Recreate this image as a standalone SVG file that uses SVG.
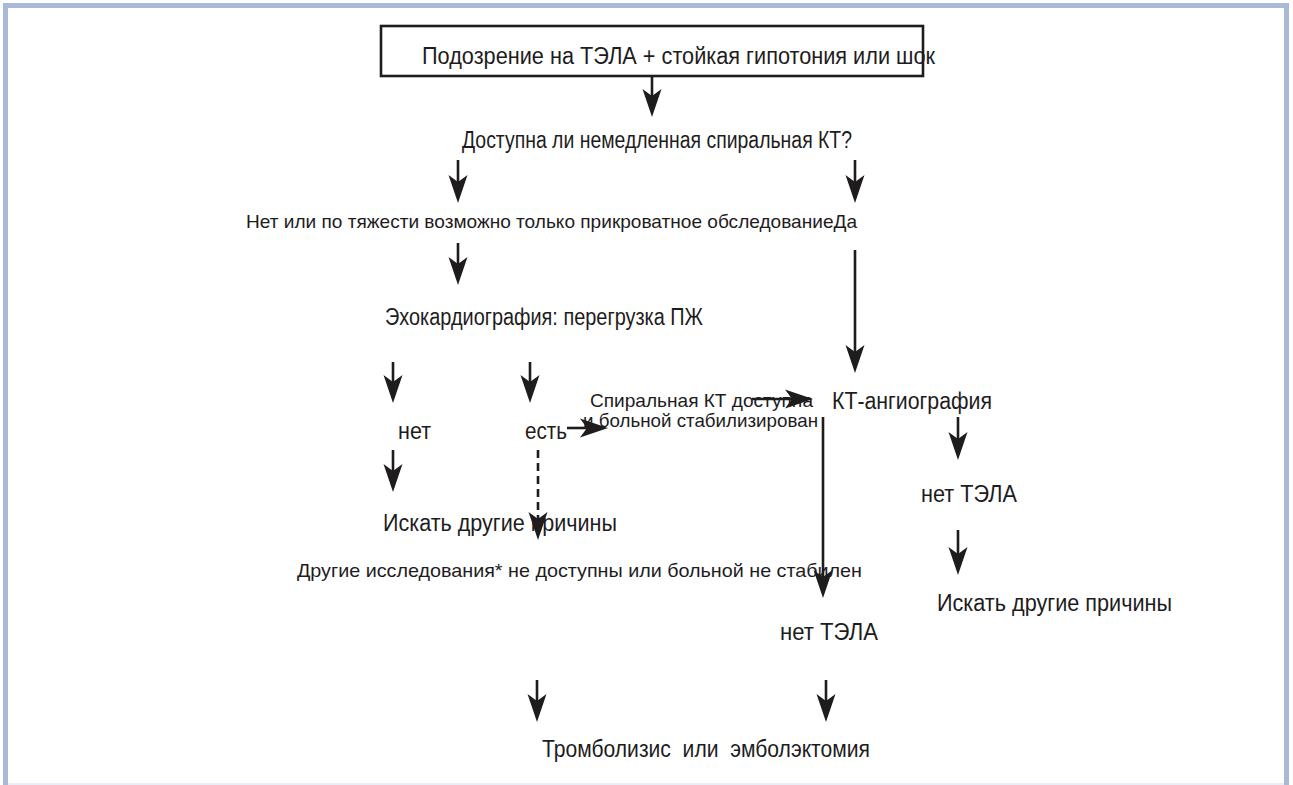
<svg xmlns="http://www.w3.org/2000/svg" width="1293" height="785" viewBox="0 0 1293 785">
<style>
.t{font-family:"Liberation Sans",Arial,sans-serif;fill:#1e1c1d}
.l{font-size:23px}
.s{font-size:18.5px}
.c{stroke:#1e1c1d;stroke-width:2.6;fill:none}
.d{stroke-dasharray:8 5}
</style>
<defs>
<marker id="ah" viewBox="-17 -11 32 22" refX="0" refY="0" markerWidth="32" markerHeight="22" markerUnits="userSpaceOnUse" orient="auto">
<path d="M13,0 L-15,-9.5 L-8,0 L-15,9.5 Z" fill="#1e1c1d"/>
</marker>
</defs>
<rect width="1293" height="785" fill="#ffffff"/>
<rect x="5.5" y="5.5" width="1281" height="820" fill="none" stroke="#a9bad9" stroke-width="5"/>
<line x1="8" y1="784" x2="1284" y2="784" stroke="#e9edf7" stroke-width="2"/>

<g id="n-start">
<rect x="381" y="26" width="542" height="50" fill="none" stroke="#1e1c1d" stroke-width="2.6"/>
<text class="t l" x="422" y="64" textLength="513" lengthAdjust="spacingAndGlyphs">Подозрение на ТЭЛА + стойкая гипотония или шок</text>
</g>
<g id="n-ct-available"><text class="t l" x="462" y="148" textLength="390" lengthAdjust="spacingAndGlyphs">Доступна ли немедленная спиральная КТ?</text></g>
<g id="n-no-yes"><text class="t s" x="246" y="228" textLength="611" lengthAdjust="spacingAndGlyphs">Нет или по тяжести возможно только прикроватное обследованиеДа</text></g>
<g id="n-echo"><text class="t l" x="385" y="325" textLength="318" lengthAdjust="spacingAndGlyphs">Эхокардиография: перегрузка ПЖ</text></g>
<g id="n-spiral"><text class="t s" x="590" y="407" textLength="223" lengthAdjust="spacingAndGlyphs">Спиральная КТ доступна</text><text class="t s" x="583" y="427" textLength="235" lengthAdjust="spacingAndGlyphs">и больной стабилизирован</text></g>
<g id="n-cta"><text class="t l" x="832" y="409" textLength="160" lengthAdjust="spacingAndGlyphs">КТ-ангиография</text></g>
<g id="n-net"><text class="t l" x="398" y="439" textLength="33" lengthAdjust="spacingAndGlyphs">нет</text></g>
<g id="n-est"><text class="t l" x="525" y="439" textLength="42" lengthAdjust="spacingAndGlyphs">есть</text></g>
<g id="n-no-pe-1"><text class="t l" x="921" y="502" textLength="96" lengthAdjust="spacingAndGlyphs">нет ТЭЛА</text></g>
<g id="n-other-1"><text class="t l" x="937" y="611" textLength="235" lengthAdjust="spacingAndGlyphs">Искать другие причины</text></g>
<g id="n-other-2"><text class="t l" x="383" y="531" textLength="234" lengthAdjust="spacingAndGlyphs">Искать другие причины</text></g>
<g id="n-other-tests"><text class="t s" x="297" y="577" textLength="565" lengthAdjust="spacingAndGlyphs">Другие исследования* не доступны или больной не стабилен</text></g>
<g id="n-no-pe-2"><text class="t l" x="780" y="640" textLength="98" lengthAdjust="spacingAndGlyphs">нет ТЭЛА</text></g>
<g id="n-thrombolysis"><text class="t l" x="542" y="757" textLength="328" lengthAdjust="spacingAndGlyphs" xml:space="preserve">Тромболизис  или  эмболэктомия</text></g>

<g id="connectors">
<line class="c" x1="652" y1="76" x2="652" y2="104" marker-end="url(#ah)"/>
<line class="c" x1="458" y1="160" x2="458" y2="190" marker-end="url(#ah)"/>
<line class="c" x1="855" y1="160" x2="855" y2="190" marker-end="url(#ah)"/>
<line class="c" x1="458" y1="243" x2="458" y2="272" marker-end="url(#ah)"/>
<line class="c" x1="855" y1="250" x2="855" y2="360" marker-end="url(#ah)"/>
<line class="c" x1="393" y1="362" x2="393" y2="390" marker-end="url(#ah)"/>
<line class="c" x1="530" y1="362" x2="530" y2="390" marker-end="url(#ah)"/>
<line class="c" x1="752" y1="399" x2="800" y2="399" marker-end="url(#ah)"/>
<line class="c" x1="567" y1="428" x2="595" y2="428" marker-end="url(#ah)"/>
<line class="c" x1="823" y1="417" x2="823" y2="585" marker-end="url(#ah)"/>
<line class="c" x1="958" y1="417" x2="958" y2="447" marker-end="url(#ah)"/>
<line class="c" x1="958" y1="530" x2="958" y2="562" marker-end="url(#ah)"/>
<line class="c" x1="393" y1="450" x2="393" y2="479" marker-end="url(#ah)"/>
<line class="c d" x1="538" y1="450" x2="538" y2="527" marker-end="url(#ah)"/>
<line class="c" x1="537" y1="680" x2="537" y2="709" marker-end="url(#ah)"/>
<line class="c" x1="826" y1="680" x2="826" y2="709" marker-end="url(#ah)"/>
</g>
</svg>
